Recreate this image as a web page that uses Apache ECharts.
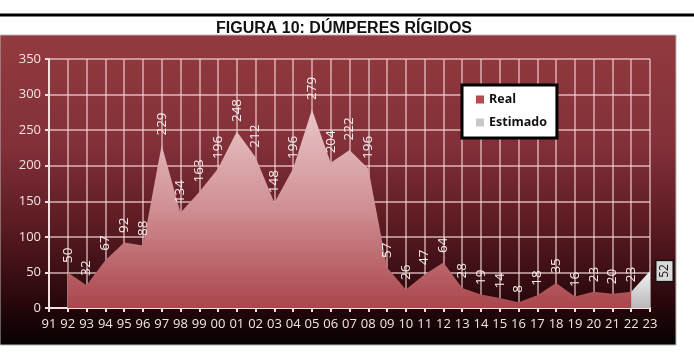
<!DOCTYPE html>
<html><head><meta charset="utf-8">
<script src="https://cdn.jsdelivr.net/npm/echarts@6/dist/echarts.min.js"></script>
<style>html,body{margin:0;padding:0;background:#fff;}#c{width:694px;height:357px;}</style>
</head><body><div id="c"></div>
<script>
const categories = ['91','92','93','94','95','96','97','98','99','00','01','02','03','04','05','06','07','08','09','10','11','12','13','14','15','16','17','18','19','20','21','22','23'];
const realValues = [null,50,32,67,92,88,229,134,163,196,248,212,148,196,279,204,222,196,57,26,47,64,28,19,14,8,18,35,16,23,20,23,null];
const estValues = [null,null,null,null,null,null,null,null,null,null,null,null,null,null,null,null,null,null,null,null,null,null,null,null,null,null,null,null,null,null,null,23,52];
const yTicks = [0,50,100,150,200,250,300,350];

const chart = echarts.init(document.getElementById('c'));
const txt = '#f3e4e4';
const estData = estValues.map((v,i)=> {
  if (i === estValues.length-1 && v!=null) {
    return {value:v, label:{show:true, position:'right', rotate:90, align:'center', verticalAlign:'middle', distance:14,
      color:'#111', fontSize:12, fontFamily:'"Open Sans",sans-serif', backgroundColor:'#d9d9d9', borderColor:'#111', borderWidth:1.5, padding:[2,3,2,3]}};
  }
  return v;
});
chart.setOption({
  animation:false,
  title:{text:'FIGURA 10: DÚMPERES RÍGIDOS', left:339, textAlign:'center', top:16,
    textStyle:{fontFamily:'"Liberation Sans Narrow","Arial Narrow","Liberation Sans",sans-serif', fontWeight:'bold', fontSize:16, color:'#111'}},
  graphic:[
    {type:'rect', z:-10, shape:{x:0,y:35,width:676,height:310},
     style:{fill:new echarts.graphic.LinearGradient(0,0,0,1,[
       {offset:0,color:'#923b3e'},{offset:0.35,color:'#83303a'},{offset:0.6,color:'#5e1c23'},{offset:0.85,color:'#2a080c'},{offset:1,color:'#070102'}]),
       stroke:'#b8b8b8', lineWidth:1}},
    {type:'line', z:10, shape:{x1:0,y1:15,x2:694,y2:15}, style:{stroke:'#000', lineWidth:3}}
  ],
  legend:{left:462, top:85, orient:'vertical', backgroundColor:'#fff', borderColor:'#000', borderWidth:3,
    padding:[8,10,9,14], itemGap:10, itemWidth:8, itemHeight:8, icon:'rect',
    textStyle:{fontFamily:'"Open Sans",sans-serif', fontSize:12.5, color:'#111', fontWeight:'bold'},
    data:[{name:'Real', itemStyle:{color:'#b34a52'}},{name:'Estimado', itemStyle:{color:'#c8c8c8'}}]},
  grid:{left:49, right:44, top:59, bottom:49},
  xAxis:{type:'category', data:categories, boundaryGap:false,
    axisLine:{lineStyle:{color:'#f4dede', width:2}},
    axisTick:{show:true, lineStyle:{color:'#f4dede', width:2}, length:4, alignWithLabel:true},
    axisLabel:{color:txt, fontFamily:'"Open Sans",sans-serif', fontSize:13, margin:10, interval:0},
    splitLine:{show:true, lineStyle:{color:'rgba(245,215,215,0.75)', width:1.5}}},
  yAxis:{type:'value', min:0, max:350, interval:50,
    axisLine:{show:true, lineStyle:{color:'#f4dede', width:2}},
    axisTick:{show:true, length:4, lineStyle:{color:'#f4dede', width:2}},
    axisLabel:{color:txt, fontFamily:'"Open Sans",sans-serif', fontSize:13, margin:8},
    splitLine:{show:true, lineStyle:{color:'rgba(245,215,215,0.8)', width:1.5}}},
  series:[
    {name:'Real', type:'line', data:realValues, symbol:'circle', symbolSize:1, itemStyle:{color:'rgba(0,0,0,0)'},
     lineStyle:{width:0}, z:3,
     areaStyle:{opacity:1, color:new echarts.graphic.LinearGradient(0,0,0,1,[
       {offset:0,color:'#eac6c8'},{offset:0.5,color:'#cf8f94'},{offset:1,color:'#a9464c'}])},
     label:{show:true, position:'top', rotate:90, align:'left', verticalAlign:'middle', distance:9,
       color:'#f6eeee', fontFamily:'"Open Sans",sans-serif', fontSize:13.5}},
    {name:'Estimado', type:'line', data:estData, symbol:'circle', symbolSize:1, itemStyle:{color:'rgba(0,0,0,0)'},
     lineStyle:{width:0}, z:4,
     areaStyle:{opacity:1, color:new echarts.graphic.LinearGradient(0,0,0,1,[
       {offset:0,color:'#f2f2f2'},{offset:1,color:'#b9b9b9'}])},
     label:{show:false, fontFamily:'"Open Sans",sans-serif'}}
  ]
});
</script></body></html>
